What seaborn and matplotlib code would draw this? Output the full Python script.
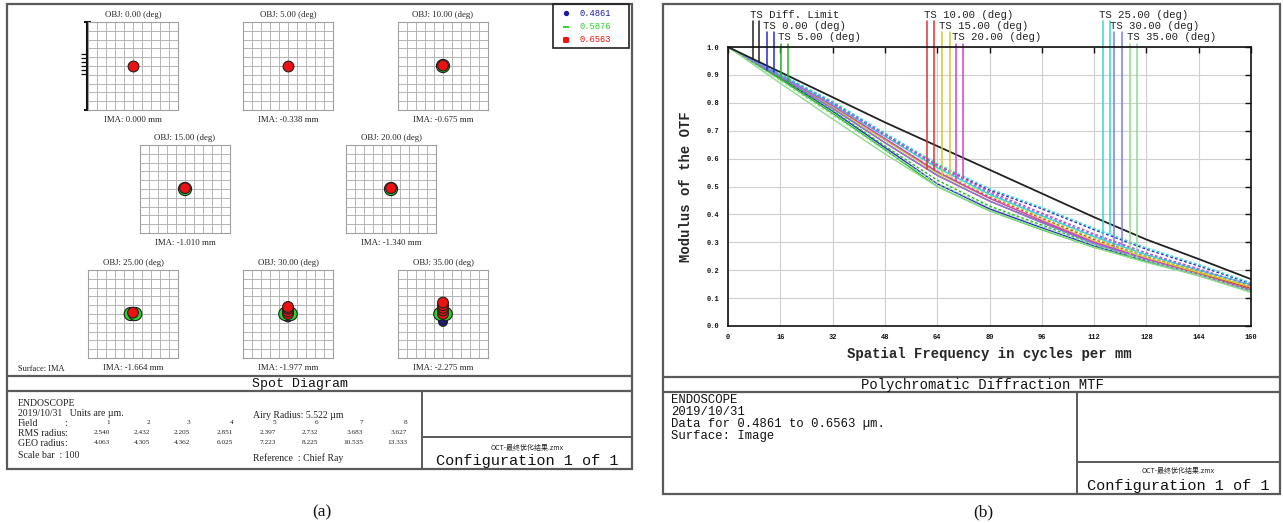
import numpy as np
import pandas as pd
import matplotlib
matplotlib.use("Agg")
import matplotlib.pyplot as plt
from matplotlib.patches import Rectangle
import seaborn as sns

# ---------------------------------------------------------------
# data
# ---------------------------------------------------------------

# (a) spot diagram
field_names = ['0.00', '5.00', '10.00', '15.00', '20.00', '25.00', '30.00', '35.00']
ima_heights = ['0.000', '-0.338', '-0.675', '-1.010', '-1.340', '-1.664', '-1.977', '-2.275']
rms_radius = [2.540, 2.432, 2.205, 2.851, 2.397, 2.732, 3.683, 3.627]
geo_radius = [4.063, 4.305, 4.362, 6.025, 7.223, 8.225, 10.535, 13.333]
wavelengths = ['0.4861', '0.5876', '0.6563']

# spot centres (um, relative to chief ray) per field / wavelength
spot_field = [0, 1, 2, 2, 3, 3, 4, 4,
              5, 5, 5, 5,
              6, 6, 6, 6, 6, 6, 6,
              7, 7, 7, 7, 7, 7, 7, 7, 7]
spot_wave = ['0.6563', '0.6563', '0.5876', '0.6563', '0.5876', '0.6563', '0.5876', '0.6563',
             '0.4861', '0.5876', '0.5876', '0.6563',
             '0.4861', '0.5876', '0.5876', '0.6563', '0.6563', '0.6563', '0.6563',
             '0.4861', '0.4861', '0.5876', '0.5876', '0.6563', '0.6563', '0.6563', '0.6563', '0.6563']
spot_dx = [0, 0, 0, 0, 0, 0, 0, 0,
           0, -2.5, 2.5, 0,
           0, -3, 3, 0, 0, 0, 0,
           0, 0, -3, 3, 0, 0, 0, 0, 0]
spot_dy = [0, 0, 0, 0.5, 0, 1, 0, 1,
           -2, 0, 0, 1.5,
           -4, 0, 0, 0, 3, 6, 8,
           -9, -6, 0, 0, 0, 4, 7, 10, 13]

# (b) polychromatic diffraction MTF
freqs = [0, 16, 32, 48, 64, 80, 96, 112, 128, 144, 160]
diff_limit = [1.0, 0.91, 0.82, 0.73, 0.645, 0.56, 0.475, 0.39, 0.31, 0.24, 0.168]
mtf_tan = [
    [1.0, 0.89, 0.77, 0.64, 0.51, 0.42, 0.352, 0.287, 0.233, 0.185, 0.128],
    [1.0, 0.885, 0.762, 0.632, 0.50, 0.413, 0.345, 0.282, 0.23, 0.183, 0.125],
    [1.0, 0.893, 0.78, 0.657, 0.54, 0.448, 0.372, 0.30, 0.24, 0.19, 0.135],
    [1.0, 0.895, 0.785, 0.667, 0.548, 0.457, 0.38, 0.305, 0.245, 0.192, 0.14],
    [1.0, 0.897, 0.79, 0.672, 0.553, 0.458, 0.377, 0.30, 0.24, 0.185, 0.128],
    [1.0, 0.90, 0.795, 0.68, 0.567, 0.472, 0.395, 0.32, 0.255, 0.20, 0.148],
    [1.0, 0.893, 0.78, 0.657, 0.54, 0.448, 0.37, 0.295, 0.235, 0.18, 0.125],
    [1.0, 0.87, 0.742, 0.617, 0.50, 0.413, 0.347, 0.282, 0.228, 0.18, 0.12],
]
mtf_sag = [
    [1.0, 0.90, 0.80, 0.687, 0.577, 0.487, 0.42, 0.345, 0.275, 0.215, 0.152],
    [1.0, 0.89, 0.772, 0.645, 0.523, 0.43, 0.362, 0.292, 0.235, 0.185, 0.13],
    [1.0, 0.896, 0.786, 0.667, 0.553, 0.462, 0.386, 0.31, 0.25, 0.195, 0.14],
    [1.0, 0.898, 0.79, 0.672, 0.558, 0.467, 0.39, 0.315, 0.252, 0.197, 0.143],
    [1.0, 0.90, 0.80, 0.687, 0.577, 0.482, 0.405, 0.33, 0.262, 0.205, 0.145],
    [1.0, 0.903, 0.805, 0.692, 0.582, 0.492, 0.425, 0.35, 0.28, 0.22, 0.155],
    [1.0, 0.90, 0.795, 0.682, 0.572, 0.477, 0.40, 0.325, 0.26, 0.20, 0.148],
    [1.0, 0.88, 0.757, 0.63, 0.512, 0.425, 0.357, 0.29, 0.235, 0.185, 0.125],
]
# frequencies where the key lines drop onto the curves
diff_marks = [7.7, 9.5]
tan_marks = [11.8, 16.3, 61.0, 65.6, 69.6, 114.6, 118.0, 123.0]
sag_marks = [14.1, 18.4, 63.0, 67.8, 71.8, 117.0, 120.6, 125.0]

# ---------------------------------------------------------------
# styles
# ---------------------------------------------------------------
field_colors = ['#2a2acc', '#22bb22', '#dd3333', '#cccc33',
                '#cc44cc', '#33d6d6', '#7f7fe0', '#8fdc8f']
wave_colors = {'0.4861': '#1a1aa0', '0.5876': '#2ed12e', '0.6563': '#ee1111'}
wave_markers = {'0.4861': 'o', '0.5876': 'o', '0.6563': 'o'}
wave_sizes = {'0.4861': 40, '0.5876': 90, '0.6563': 60}

sns.set_theme(style="white")
MONO = 'Liberation Mono'
SERIF = 'Liberation Serif'
CJK = ['Noto Sans CJK SC', 'DejaVu Sans']
FRAME = '#5a5a5a'

W, H = 1283, 523
fig = plt.figure(figsize=(W / 100, H / 100), dpi=100)
fig.patch.set_facecolor('white')

# pixel-space layer for frames and report text
bg = fig.add_axes([0, 0, 1, 1])
bg.set_xlim(0, W)
bg.set_ylim(H, 0)
bg.axis('off')


def rect_frac(x0, y0, x1, y1):
    return [x0 / W, 1 - y1 / H, (x1 - x0) / W, (y1 - y0) / H]


def hline(x0, x1, y, lw=1.4, c=FRAME):
    bg.plot([x0, x1], [y, y], color=c, lw=lw, solid_capstyle='butt')


def vline(x, y0, y1, lw=1.4, c=FRAME):
    bg.plot([x, x], [y0, y1], color=c, lw=lw, solid_capstyle='butt')


# ===============================================================
# (a) Spot diagram
# ===============================================================
aL, aR, aT, aB = 7, 632, 4, 469
bg.add_patch(Rectangle((aL, aT), aR - aL, aB - aT, fill=False, ec=FRAME, lw=1.6))
hline(aL, aR, 376, lw=1.6)
hline(aL, aR, 391, lw=1.6)
vline(422, 391, aB)
hline(422, aR, 437)
bg.text(300, 384, 'Spot Diagram', family=MONO, fontsize=9.5,
        ha='center', va='center', color='#111')

spot_df = pd.DataFrame({'field': spot_field, 'wave': spot_wave,
                        'dx': spot_dx, 'dy': spot_dy})

box_centers = [(133, 66), (288, 66), (443, 66),
               (185, 189), (391, 189),
               (133, 314), (288, 314), (443, 314)]
half_w, half_h = 45, 44
for i, (cx, cy) in enumerate(box_centers):
    ax = fig.add_axes(rect_frac(cx - half_w, cy - half_h, cx + half_w, cy + half_h))
    ax.set_xlim(-50, 50)
    ax.set_ylim(-50, 50)
    ax.set_xticks(np.linspace(-50, 50, 11))
    ax.set_yticks(np.linspace(-50, 50, 11))
    ax.grid(True, color='#b4b4b4', lw=0.7)
    ax.tick_params(length=0, labelbottom=False, labelleft=False)
    for sp in ax.spines.values():
        sp.set_color('#a0a0a0')
        sp.set_linewidth(0.8)
    sub = spot_df[spot_df['field'] == i]
    sns.scatterplot(data=sub, x='dx', y='dy', hue='wave', style='wave', size='wave',
                    palette=wave_colors, markers=wave_markers, sizes=wave_sizes,
                    edgecolor='#202020', linewidth=0.8, legend=False, ax=ax, zorder=3)
    ax.set_xlabel('')
    ax.set_ylabel('')
    bg.text(cx, cy - half_h - 7, f'OBJ: {field_names[i]} (deg)', family=SERIF,
            fontsize=6.3, ha='center', va='center', color='#222')
    bg.text(cx, cy + half_h + 10, f'IMA: {ima_heights[i]} mm', family=SERIF,
            fontsize=6.3, ha='center', va='center', color='#222')

# scale bar beside the first box
sbx = box_centers[0][0] - half_w - 1
vline(sbx, box_centers[0][1] - half_h, box_centers[0][1] + half_h, lw=1.5, c='#111')
hline(sbx - 3, sbx + 4, box_centers[0][1] - half_h, lw=1.5, c='#111')
hline(sbx - 3, sbx + 4, box_centers[0][1] + half_h, lw=1.5, c='#111')
for ty in (54, 58, 62, 66, 70, 74):
    hline(sbx - 6, sbx, ty, lw=0.9, c='#111')

bg.text(18, 369, 'Surface: IMA', family=SERIF, fontsize=6, va='center', color='#222')

# wavelength key
bg.add_patch(Rectangle((553, 4), 76, 44, fill=False, ec='#222', lw=1.2))
key_marks = ['o', '_', 's']
key_sizes = [6, 14, 10]
for k, wl in enumerate(wavelengths):
    ky = 13 + 13.5 * k
    bg.scatter([566], [ky], marker=key_marks[k], s=key_sizes[k], color=wave_colors[wl], lw=1.4)
    bg.text(579, ky, wl, family=MONO, fontsize=6.3, va='center', color=wave_colors[wl])

# report block
info_kw = dict(family=SERIF, fontsize=7, va='center', color='#222')
bg.text(18, 403, 'ENDOSCOPE', **info_kw)
bg.text(18, 414, '2019/10/31   Units are \u00b5m.', **info_kw)
bg.text(18, 424, 'Field', **info_kw)
bg.text(18, 434, 'RMS radius', **info_kw)
bg.text(18, 444, 'GEO radius', **info_kw)
for yy in (424, 434, 444):
    bg.text(64, yy, ':', **info_kw)
bg.text(18, 456, 'Scale bar  : 100', **info_kw)
bg.text(253, 415, 'Airy Radius: 5.522 \u00b5m', **info_kw)
bg.text(253, 458, 'Reference  : Chief Ray', **info_kw)
col_right = [110, 150, 190, 233, 276, 318, 363, 407]
num_kw = dict(family=SERIF, fontsize=5.2, ha='right', va='center', color='#222')
for k, xr in enumerate(col_right):
    bg.text(xr, 422, str(k + 1), **num_kw)
    bg.text(xr, 433, f'{rms_radius[k]:.3f}', **num_kw)
    bg.text(xr, 443, f'{geo_radius[k]:.3f}', **num_kw)
bg.text(527, 448, 'OCT-最终优化结果.zmx', family=CJK, fontsize=5,
        ha='center', va='center', color='#222')
bg.text(527, 461, 'Configuration 1 of 1', family=MONO, fontsize=11,
        ha='center', va='center', color='#111')

# ===============================================================
# (b) Polychromatic diffraction MTF
# ===============================================================
bL, bR, bT, bB = 663, 1280, 4, 494
bg.add_patch(Rectangle((bL, bT), bR - bL, bB - bT, fill=False, ec=FRAME, lw=1.6))
hline(bL, bR, 377, lw=1.6)
hline(bL, bR, 392, lw=1.6)
vline(1077, 392, bB)
hline(1077, bR, 462)
bg.text(982, 385, 'Polychromatic Diffraction MTF', family=MONO, fontsize=10,
        ha='center', va='center', color='#111')
rep_kw = dict(family=MONO, fontsize=8.8, va='center', color='#111')
bg.text(671, 400, 'ENDOSCOPE', **rep_kw)
bg.text(671, 412, '2019/10/31', **rep_kw)
bg.text(671, 424, 'Data for 0.4861 to 0.6563 \u00b5m.', **rep_kw)
bg.text(671, 436, 'Surface: Image', **rep_kw)
bg.text(1178, 471, 'OCT-最终优化结果.zmx', family=CJK, fontsize=5,
        ha='center', va='center', color='#222')
bg.text(1178, 486, 'Configuration 1 of 1', family=MONO, fontsize=11,
        ha='center', va='center', color='#111')

mx0, mx1, my0, my1 = 728, 1251, 47, 326
ax = fig.add_axes(rect_frac(mx0, my0, mx1, my1))

mtf_rows = []
for i, f in enumerate(field_names):
    for j, fr in enumerate(freqs):
        mtf_rows.append((f, 'T', fr, mtf_tan[i][j]))
        mtf_rows.append((f, 'S', fr, mtf_sag[i][j]))
mtf_df = pd.DataFrame(mtf_rows, columns=['field', 'dir', 'freq', 'mtf'])

sns.lineplot(data=mtf_df, x='freq', y='mtf', hue='field', style='dir',
             palette=dict(zip(field_names, field_colors)),
             dashes={'T': '', 'S': (2, 1.5)}, lw=1.0, estimator=None,
             legend=False, ax=ax)
sns.lineplot(x=freqs, y=diff_limit, color='#222222', lw=1.3, ax=ax)

ax.set_xlim(0, 160)
ax.set_ylim(0, 1.0)
ax.set_xticks(freqs)
ax.set_yticks(np.round(np.arange(0, 1.01, 0.1), 1))
ax.set_yticklabels([f'{v:.1f}' for v in np.arange(0, 1.01, 0.1)])
ax.grid(True, color='#cfcfcf', lw=0.8)
ax.tick_params(direction='in', length=4, width=1, top=True, right=True,
               labelsize=5, pad=6, colors='#111')
for lab in ax.get_xticklabels() + ax.get_yticklabels():
    lab.set_family(MONO)
    lab.set_fontweight('bold')
for sp in ax.spines.values():
    sp.set_color('#111')
    sp.set_linewidth(1.2)
ax.set_xlabel('Spatial Frequency in cycles per mm', family=MONO, fontsize=10,
              fontweight='bold', labelpad=4)
ax.set_ylabel('Modulus of the OTF', family=MONO, fontsize=10,
              fontweight='bold', labelpad=10)

# key lines dropping from the labels onto the curves
row_text_y = [1.115, 1.075, 1.035]
row_line_top = [1.092, 1.052, 1.012]
key_labels = ['TS Diff. Limit'] + [f'TS {f} (deg)' for f in field_names]
for k, lab in enumerate(key_labels):
    if k == 0:
        xs = diff_marks
        ys = [np.interp(x, freqs, diff_limit) for x in xs]
        col = '#222222'
    else:
        i = k - 1
        xs = [tan_marks[i], sag_marks[i]]
        ys = [np.interp(xs[0], freqs, mtf_tan[i]), np.interp(xs[1], freqs, mtf_sag[i])]
        col = field_colors[i]
    row = k % 3
    for x, y in zip(xs, ys):
        ax.plot([x, x], [row_line_top[row], y], color=col, lw=1.1, clip_on=False)
    ax.text(xs[0] - 1.0, row_text_y[row], lab, family=MONO, fontsize=7.7,
            ha='left', va='center', color='#222', clip_on=False)

# panel captions
bg.text(322, 512, '(a)', family=SERIF, fontsize=12.5, ha='center', va='center', color='#111')
bg.text(983, 512, '(b)', family=SERIF, fontsize=12.5, ha='center', va='center', color='#111')

plt.savefig('out.png', dpi=100)
